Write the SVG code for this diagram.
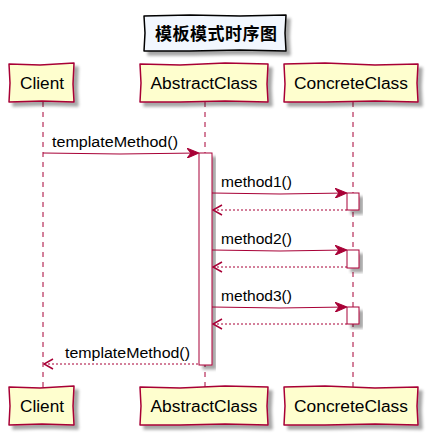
<svg xmlns="http://www.w3.org/2000/svg" width="430" height="440" viewBox="0 0 430 440">
<defs>
<filter id="sh" x="-20%" y="-20%" width="150%" height="150%">
<feGaussianBlur in="SourceAlpha" stdDeviation="1.8"/>
<feOffset dx="4" dy="4" result="b"/>
<feComponentTransfer><feFuncA type="linear" slope="0.35"/></feComponentTransfer>
<feMerge><feMergeNode/><feMergeNode in="SourceGraphic"/></feMerge>
</filter>
<marker id="ah" viewBox="0 0 12 10" refX="11" refY="5" markerWidth="12" markerHeight="10" markerUnits="userSpaceOnUse" orient="auto">
<path d="M0,0 L12,5 L0,10 L4,5 Z" fill="#A80036" stroke="#A80036" stroke-width="1"/>
</marker>
<marker id="ao" viewBox="0 0 12 12" refX="1" refY="6" markerWidth="12" markerHeight="12" markerUnits="userSpaceOnUse" orient="auto">
<path d="M10,1 L1,6 L10,11" fill="none" stroke="#A80036" stroke-width="1.5"/>
</marker>
</defs>
<style>
.part path{fill:#FEFECE;stroke:#A80036;stroke-width:1.5;stroke-linejoin:round;}
.part text{font-family:"Liberation Sans",Arial,sans-serif;font-size:16px;fill:#000;text-anchor:middle;}
.life{stroke:#A80036;stroke-width:1;stroke-dasharray:5,5;fill:none;}
.act{fill:#FFFFFF;stroke:#A80036;stroke-width:1;}
.msg{stroke:#A80036;stroke-width:1;fill:none;}
.ret{stroke:#A80036;stroke-width:1;fill:none;stroke-dasharray:2,2;}
.lbl{font-family:"Liberation Sans",Arial,sans-serif;font-size:14px;fill:#000;}
.title{font-family:"Noto Sans CJK SC","Noto Sans CJK JP",sans-serif;font-size:17px;font-weight:bold;fill:#000;text-anchor:middle;}
</style>
<g id="title">
<path d="M144,16 L190,15 L240,16 L286,15 L285,33 L286,51 L240,50 L190,51 L144,51 L145,33 Z" fill="#F2F7FE" stroke="#000" stroke-width="1.5" stroke-linejoin="round" filter="url(#sh)"/>
<text class="title" x="216" y="40" textLength="122" lengthAdjust="spacing">模板模式时序图</text>
</g>
<g id="lifelines">
<line class="life" x1="43" y1="102" x2="43" y2="387"/>
<line class="life" x1="205" y1="102" x2="205" y2="387"/>
<line class="life" x1="353" y1="102" x2="353" y2="387"/>
</g>
<g id="client_top" class="part"><path d="M9,64 L40,65 L74,63 L73,84 L74,102 L42,101 L9,102 L10,83 Z" filter="url(#sh)"/><text x="42" y="89" textLength="44" lengthAdjust="spacingAndGlyphs">Client</text></g>
<g id="abstract_top" class="part"><path d="M140,64 L180,65 L225,63 L268,64 L267,84 L268,102 L225,101 L180,102 L140,102 L141,83 Z" filter="url(#sh)"/><text x="204" y="89" textLength="107" lengthAdjust="spacingAndGlyphs">AbstractClass</text></g>
<g id="concrete_top" class="part"><path d="M284,64 L325,63 L375,65 L418,64 L417,83 L418,102 L375,101 L325,102 L284,102 L285,84 Z" filter="url(#sh)"/><text x="351" y="89" textLength="114" lengthAdjust="spacingAndGlyphs">ConcreteClass</text></g>
<g id="client_bottom" class="part"><path d="M9,387 L40,388 L74,386 L73,406 L74,425 L42,424 L9,425 L10,406 Z" filter="url(#sh)"/><text x="42" y="412" textLength="44" lengthAdjust="spacingAndGlyphs">Client</text></g>
<g id="abstract_bottom" class="part"><path d="M140,387 L180,388 L225,386 L268,387 L267,406 L268,425 L225,424 L180,425 L140,425 L141,406 Z" filter="url(#sh)"/><text x="204" y="412" textLength="107" lengthAdjust="spacingAndGlyphs">AbstractClass</text></g>
<g id="concrete_bottom" class="part"><path d="M284,387 L325,386 L375,388 L418,387 L417,406 L418,425 L375,424 L325,425 L284,425 L285,406 Z" filter="url(#sh)"/><text x="351" y="412" textLength="114" lengthAdjust="spacingAndGlyphs">ConcreteClass</text></g>
<g id="activations">
<rect class="act" x="199" y="153" width="13" height="212" filter="url(#sh)"/>
<rect class="act" x="347" y="193" width="12" height="17" filter="url(#sh)"/>
<rect class="act" x="347" y="250" width="12" height="18" filter="url(#sh)"/>
<rect class="act" x="347" y="307" width="12" height="17" filter="url(#sh)"/>
</g>
<g id="connectors">
<path class="msg" d="M43,153 L120,154 L198,153" marker-end="url(#ah)"/>
<text class="lbl" x="52" y="147" textLength="126" lengthAdjust="spacingAndGlyphs">templateMethod()</text>
<path class="msg" d="M212,193 L280,194 L346,193" marker-end="url(#ah)"/>
<text class="lbl" x="221" y="187" textLength="71" lengthAdjust="spacingAndGlyphs">method1()</text>
<path class="ret" d="M213,210 L347,210" marker-start="url(#ao)"/>
<path class="msg" d="M212,250 L280,251 L346,250" marker-end="url(#ah)"/>
<text class="lbl" x="221" y="244" textLength="71" lengthAdjust="spacingAndGlyphs">method2()</text>
<path class="ret" d="M213,267 L347,267" marker-start="url(#ao)"/>
<path class="msg" d="M212,307 L280,308 L346,307" marker-end="url(#ah)"/>
<text class="lbl" x="221" y="301" textLength="71" lengthAdjust="spacingAndGlyphs">method3()</text>
<path class="ret" d="M213,324 L347,324" marker-start="url(#ao)"/>
<path class="ret" d="M44,364 L199,364" marker-start="url(#ao)"/>
<text class="lbl" x="65" y="358" textLength="125" lengthAdjust="spacingAndGlyphs">templateMethod()</text>
</g>
</svg>
